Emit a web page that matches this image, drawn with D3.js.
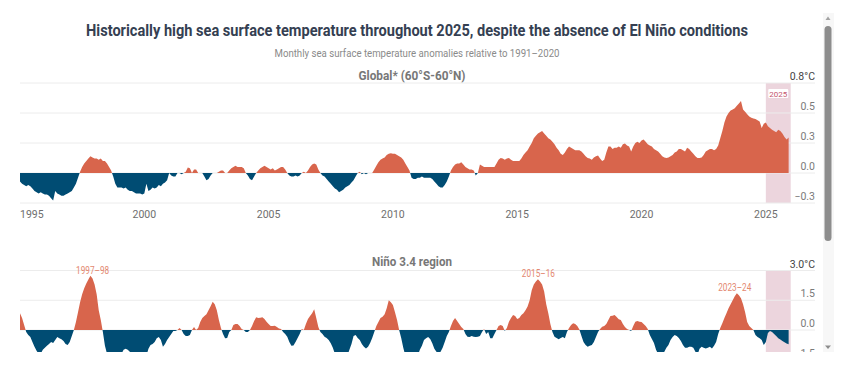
<!DOCTYPE html>
<html><head><meta charset="utf-8">
<script src="https://cdn.jsdelivr.net/npm/d3@7"></script>
<style>html,body{margin:0;padding:0;background:#fff;overflow:hidden}</style>
</head><body><svg id="chart" width="849" height="390"></svg>
<script>
// ---------- DATA (monthly anomalies, °C, Jan 1995 – Dec 2025) ----------
const startYear = 1995;
const globalAnom = [
 -0.07,-0.09,-0.10,-0.11,-0.10,-0.11,-0.13,-0.15,-0.16,-0.17,-0.16,-0.17,
 -0.18,-0.18,-0.19,-0.21,-0.23,-0.15,-0.17,-0.18,-0.19,-0.19,-0.18,-0.17,
 -0.16,-0.15,-0.12,-0.09,-0.04,0.01,0.05,0.08,0.10,0.12,0.14,0.13,
 0.12,0.12,0.11,0.12,0.10,0.10,0.08,0.05,0.02,-0.03,-0.09,-0.12,
 -0.12,-0.12,-0.13,-0.12,-0.14,-0.15,-0.15,-0.16,-0.17,-0.17,-0.17,-0.18,
 -0.17,-0.09,-0.15,-0.14,-0.12,-0.13,-0.12,-0.10,-0.11,-0.09,-0.08,-0.06,
 0.00,-0.02,-0.03,-0.03,0.00,0.00,-0.01,0.00,0.01,0.045,0.04,0.00,
 0.03,0.03,0.00,0.00,0.00,-0.03,-0.06,-0.05,-0.02,0.00,0.00,0.00,
 0.01,0.02,0.02,0.00,0.00,0.02,0.04,0.05,0.06,0.05,0.05,0.05,
 0.04,0.00,-0.02,-0.05,-0.06,-0.03,0.00,0.02,0.04,0.05,0.06,0.05,
 0.04,0.03,0.04,0.02,0.03,0.04,0.05,0.05,0.03,0.00,-0.02,-0.03,
 -0.03,-0.02,-0.03,-0.02,0.00,0.01,0.00,0.02,0.05,0.07,0.08,0.07,
 0.03,0.00,-0.02,-0.03,-0.05,-0.07,-0.09,-0.11,-0.13,-0.14,-0.16,-0.15,
 -0.14,-0.12,-0.11,-0.10,-0.08,-0.06,-0.03,0.00,0.01,-0.01,0.00,-0.01,
 0.00,0.00,0.00,0.03,0.06,0.09,0.11,0.12,0.13,0.15,0.16,0.165,
 0.16,0.16,0.15,0.14,0.13,0.11,0.08,0.05,0.02,-0.04,-0.05,-0.05,
 -0.04,-0.04,-0.03,-0.04,-0.04,-0.04,-0.04,-0.05,-0.07,-0.09,-0.11,-0.12,
 -0.12,-0.10,-0.07,-0.03,0.02,0.05,0.07,0.08,0.08,0.09,0.07,0.05,
 0.04,0.03,0.03,0.02,-0.02,0.00,0.07,0.06,0.05,0.05,0.05,0.05,
 0.05,0.05,0.08,0.11,0.125,0.12,0.11,0.12,0.125,0.11,0.10,0.10,
 0.10,0.10,0.12,0.15,0.17,0.19,0.22,0.25,0.29,0.31,0.33,0.34,
 0.35,0.33,0.31,0.29,0.28,0.26,0.24,0.21,0.19,0.16,0.15,0.17,
 0.20,0.22,0.21,0.20,0.19,0.19,0.19,0.18,0.16,0.14,0.125,0.12,
 0.11,0.13,0.14,0.145,0.12,0.10,0.11,0.17,0.22,0.22,0.20,0.21,
 0.21,0.22,0.21,0.24,0.245,0.23,0.22,0.18,0.22,0.25,0.26,0.25,
 0.27,0.28,0.26,0.24,0.23,0.22,0.20,0.19,0.18,0.16,0.14,0.13,
 0.125,0.13,0.14,0.15,0.17,0.18,0.20,0.20,0.19,0.18,0.21,0.20,
 0.18,0.16,0.14,0.125,0.125,0.13,0.15,0.18,0.19,0.20,0.20,0.19,
 0.20,0.23,0.29,0.35,0.42,0.47,0.50,0.52,0.53,0.54,0.56,0.58,
 0.60,0.53,0.51,0.49,0.47,0.46,0.455,0.45,0.44,0.43,0.375,0.41,
 0.42,0.39,0.375,0.36,0.35,0.34,0.36,0.35,0.33,0.30,0.28,0.295
];
const ninoAnom = [
 0.85,0.6,0.25,-0.1,-0.25,-0.35,-0.6,-0.85,-1.05,-1.2,-1.2,-1.0,
 -0.9,-0.8,-0.7,-0.6,-0.65,-0.5,-0.35,-0.42,-0.47,-0.55,-0.7,-0.76,
 -0.6,-0.3,0.0,0.4,0.9,1.4,1.8,2.1,2.35,2.55,2.73,2.6,
 2.3,1.8,1.0,0.5,-0.1,-0.8,-1.2,-1.3,-1.3,-1.4,-1.5,-1.6,
 -1.5,-1.2,-1.0,-0.95,-1.0,-1.1,-1.2,-1.3,-1.4,-1.5,-1.6,-1.6,
 -1.5,-1.3,-0.95,-0.76,-0.7,-0.6,-0.42,-0.35,-0.5,-0.84,-0.7,-0.5,
 -0.35,-0.2,-0.05,-0.05,0.0,0.1,0.0,-0.2,-0.3,-0.3,-0.25,0.0,
 0.15,0.0,0.1,0.4,0.6,0.7,0.8,1.0,1.2,1.43,1.3,1.0,
 0.5,0.1,-0.2,-0.42,-0.4,-0.1,0.0,0.25,0.3,0.3,0.2,0.05,
 0.0,-0.1,-0.1,0.0,0.2,0.45,0.64,0.6,0.62,0.64,0.55,0.42,
 0.3,0.2,0.2,0.22,0.15,0.08,0.05,-0.1,-0.2,-0.34,-0.6,-0.8,
 -0.78,-0.6,-0.4,-0.2,0.05,0.0,0.3,0.55,0.7,0.84,1.04,0.6,
 0.15,-0.1,-0.2,-0.34,-0.4,-0.5,-0.67,-0.9,-1.2,-1.4,-1.5,-1.6,
 -1.6,-1.5,-1.3,-1.0,-0.7,-0.3,-0.25,-0.4,-0.5,-0.7,-0.84,-0.93,
 -0.85,-0.65,-0.4,-0.1,0.2,0.4,0.6,0.67,0.8,1.1,1.5,1.4,
 1.26,0.9,0.5,0.0,-0.4,-0.9,-1.3,-1.5,-1.6,-1.6,-1.6,-1.5,
 -1.3,-1.0,-0.8,-0.5,-0.42,-0.35,-0.45,-0.67,-0.95,-1.1,-1.2,-1.1,
 -0.9,-0.6,-0.3,-0.1,0.2,0.45,0.6,0.45,0.3,0.15,0.05,-0.2,
 -0.34,-0.35,-0.3,-0.34,-0.35,-0.34,-0.3,-0.1,0.05,-0.2,-0.1,-0.42,
 -0.42,-0.2,0.0,0.2,0.25,0.2,-0.05,0.1,0.42,0.6,0.76,0.7,
 0.55,0.6,0.76,0.85,1.0,1.18,1.5,2.0,2.3,2.45,2.56,2.45,
 2.3,1.94,1.3,0.84,0.3,-0.1,-0.34,-0.4,-0.47,-0.4,-0.35,-0.42,
 -0.1,0.1,0.25,0.34,0.3,0.2,0.02,-0.3,-0.6,-0.76,-0.84,-0.8,
 -0.75,-0.6,-0.35,-0.1,0.05,0.17,0.2,0.3,0.5,0.7,0.72,0.76,
 0.65,0.54,0.5,0.3,0.15,0.05,0.0,-0.05,0.2,0.42,0.45,0.42,
 0.4,0.3,0.2,0.05,-0.25,-0.45,-0.65,-1.0,-1.2,-1.3,-1.3,-1.1,
 -0.9,-0.75,-0.5,-0.35,-0.25,-0.3,-0.4,-0.55,-0.75,-0.9,-0.9,-0.85,
 -0.84,-0.9,-1.1,-1.25,-0.95,-0.85,-0.9,-0.93,-0.9,-0.85,-0.93,-0.8,
 -0.6,-0.2,0.1,0.34,0.6,0.85,1.1,1.3,1.5,1.7,1.85,1.75,
 1.6,1.3,0.9,0.4,0.2,0.1,0.0,-0.25,-0.35,-0.42,-0.5,-0.76,
 -0.6,-0.15,-0.05,-0.1,-0.2,-0.3,-0.42,-0.48,-0.55,-0.62,-0.68,-0.72
];
const yearTicks = [1995, 2000, 2005, 2010, 2015, 2020, 2025];
const globalTicks = [-0.25, 0, 0.25, 0.5, 0.75];
const globalTickLabels = ["\u22120.3", "0.0", "0.3", "0.5", "0.8°C"];
const ninoTicks = [-1.5, 0, 1.5, 3];
const ninoTickLabels = ["\u22121.5", "0.0", "1.5", "3.0°C"];
const ninoEvents = [
  {label: "1997–98", year: 1997.92, value: 2.73},
  {label: "2015–16", year: 2015.85, value: 2.56},
  {label: "2023–24", year: 2023.75, value: 1.85}
];
const highlightYear = 2025;

// ---------- CHART ----------
const W = 849, H = 390;
const RED = "#d8654c", BLUE = "#004c73", PINK = "#ecd5dd";
const FONT = "Roboto, 'Noto Sans', sans-serif";
const svg = d3.select("#chart");
const defs = svg.append("defs");
// the embedding frame ends at y = 352 and clips the lower panel
defs.append("clipPath").attr("id", "frame").append("rect")
  .attr("x", 0).attr("y", 0).attr("width", 836).attr("height", 352);

const toSeries = arr => arr.map((v, i) => ({t: startYear + i / 12, v}));
const gData = toSeries(globalAnom), nData = toSeries(ninoAnom);

const x = d3.scaleLinear().domain([1995, 2026]).range([20, 790.7]);
const gridX0 = 20, gridX1 = 815;

// titles
svg.append("text").attr("x", 417).attr("y", 36).attr("text-anchor", "middle")
  .attr("font-family", FONT).attr("font-weight", 700).attr("font-size", 16)
  .attr("fill", "#353f52").attr("textLength", 662).attr("lengthAdjust", "spacingAndGlyphs")
  .text("Historically high sea surface temperature throughout 2025, despite the absence of El Niño conditions");
svg.append("text").attr("x", 417).attr("y", 57).attr("text-anchor", "middle")
  .attr("font-family", FONT).attr("font-size", 11).attr("fill", "#8a8a8a")
  .attr("textLength", 285).attr("lengthAdjust", "spacingAndGlyphs")
  .text("Monthly sea surface temperature anomalies relative to 1991–2020");

function panel(cfg) {
  const {id, data, y, ticks, tickLabels, title, titleY, titleW, bandTop, bandBottom, clip} = cfg;
  const outer = svg.append("g");
  outer.append("text").attr("x", 412).attr("y", titleY).attr("text-anchor", "middle")
    .attr("font-family", FONT).attr("font-weight", 700).attr("font-size", 12)
    .attr("fill", "#777").attr("textLength", titleW).attr("lengthAdjust", "spacingAndGlyphs")
    .text(title);
  const g = outer.append("g");
  if (clip) g.attr("clip-path", "url(#frame)");
  // highlight band
  g.append("rect").attr("x", x(highlightYear)).attr("width", x(highlightYear + 1) - x(highlightYear))
    .attr("y", bandTop).attr("height", bandBottom - bandTop).attr("fill", PINK);
  // grid
  g.selectAll(".grid").data(ticks).join("line")
    .attr("x1", gridX0).attr("x2", gridX1).attr("y1", d => y(d)).attr("y2", d => y(d))
    .attr("stroke", "#ececec").attr("stroke-width", 1);
  // y labels
  g.selectAll(".ylab").data(ticks).join("text")
    .attr("x", gridX1).attr("y", d => y(d) - 3).attr("text-anchor", "end")
    .attr("font-family", FONT).attr("font-size", 10.5)
    .attr("fill", (d, i) => i === ticks.length - 1 ? "#444" : "#7a7a7a")
    .text((d, i) => tickLabels[i]);
  // areas split at zero
  const y0 = y(0);
  defs.append("clipPath").attr("id", id + "-pos").append("rect")
    .attr("x", 0).attr("y", 0).attr("width", W).attr("height", y0);
  defs.append("clipPath").attr("id", id + "-neg").append("rect")
    .attr("x", 0).attr("y", y0).attr("width", W).attr("height", H - y0);
  const area = d3.area().x(d => x(d.t)).y0(y0).y1(d => y(d.v));
  g.append("path").datum(data).attr("d", area).attr("fill", RED)
    .attr("clip-path", `url(#${id}-pos)`);
  g.append("path").datum(data).attr("d", area).attr("fill", BLUE)
    .attr("clip-path", `url(#${id}-neg)`);
  return outer;
}

const yG = d3.scaleLinear().domain([-0.25, 0.75]).range([203, 83]);
const gTop = panel({id: "glob", data: gData, y: yG, ticks: globalTicks, tickLabels: globalTickLabels,
  title: "Global* (60°S-60°N)", titleY: 80, titleW: 107, bandTop: yG(0.75), bandBottom: yG(-0.25), clip: false});

// 2025 tag
const tagX = (x(highlightYear) + x(highlightYear + 1)) / 2;
gTop.append("rect").attr("x", tagX - 10).attr("y", 89).attr("width", 20).attr("height", 9)
  .attr("fill", "#fff").attr("rx", 1);
gTop.append("text").attr("x", tagX).attr("y", 96.5).attr("text-anchor", "middle")
  .attr("font-family", FONT).attr("font-size", 8).attr("fill", "#c4566e").text(String(highlightYear));

// x axis labels (top panel)
gTop.selectAll(".xlab").data(yearTicks).join("text")
  .attr("x", d => x(d)).attr("y", 218)
  .attr("text-anchor", (d, i) => i === 0 ? "start" : "middle")
  .attr("font-family", FONT).attr("font-size", 10.5).attr("fill", "#6e6e6e")
  .text(d => d);

const yN = d3.scaleLinear().domain([0, 3]).range([330, 270.5]);
const gBot = panel({id: "nino", data: nData, y: yN, ticks: ninoTicks, tickLabels: ninoTickLabels,
  title: "Niño 3.4 region", titleY: 266, titleW: 80, bandTop: yN(3), bandBottom: 400, clip: true});

gBot.selectAll(".ev").data(ninoEvents).join("text")
  .attr("x", d => x(d.year)).attr("y", d => yN(d.value) - 2)
  .attr("text-anchor", "middle").attr("font-family", FONT).attr("font-size", 10)
  .attr("fill", "#e38870").attr("textLength", 33).attr("lengthAdjust", "spacingAndGlyphs")
  .text(d => d.label);

// scrollbar of the embedding frame
const sb = svg.append("g");
sb.append("rect").attr("x", 823).attr("y", 13).attr("width", 11).attr("height", 339).attr("fill", "#f7f7f7");
sb.append("rect").attr("x", 824.5).attr("y", 26).attr("width", 7).attr("height", 215).attr("rx", 3.5).attr("fill", "#8d8d8d");
sb.append("path").attr("d", "M825.5,20 L828,16.5 L830.5,20 Z").attr("fill", "#a3a3a3");
sb.append("path").attr("d", "M825,345.5 L828,349 L831,345.5 Z").attr("fill", "#8d8d8d");
</script></body></html>
